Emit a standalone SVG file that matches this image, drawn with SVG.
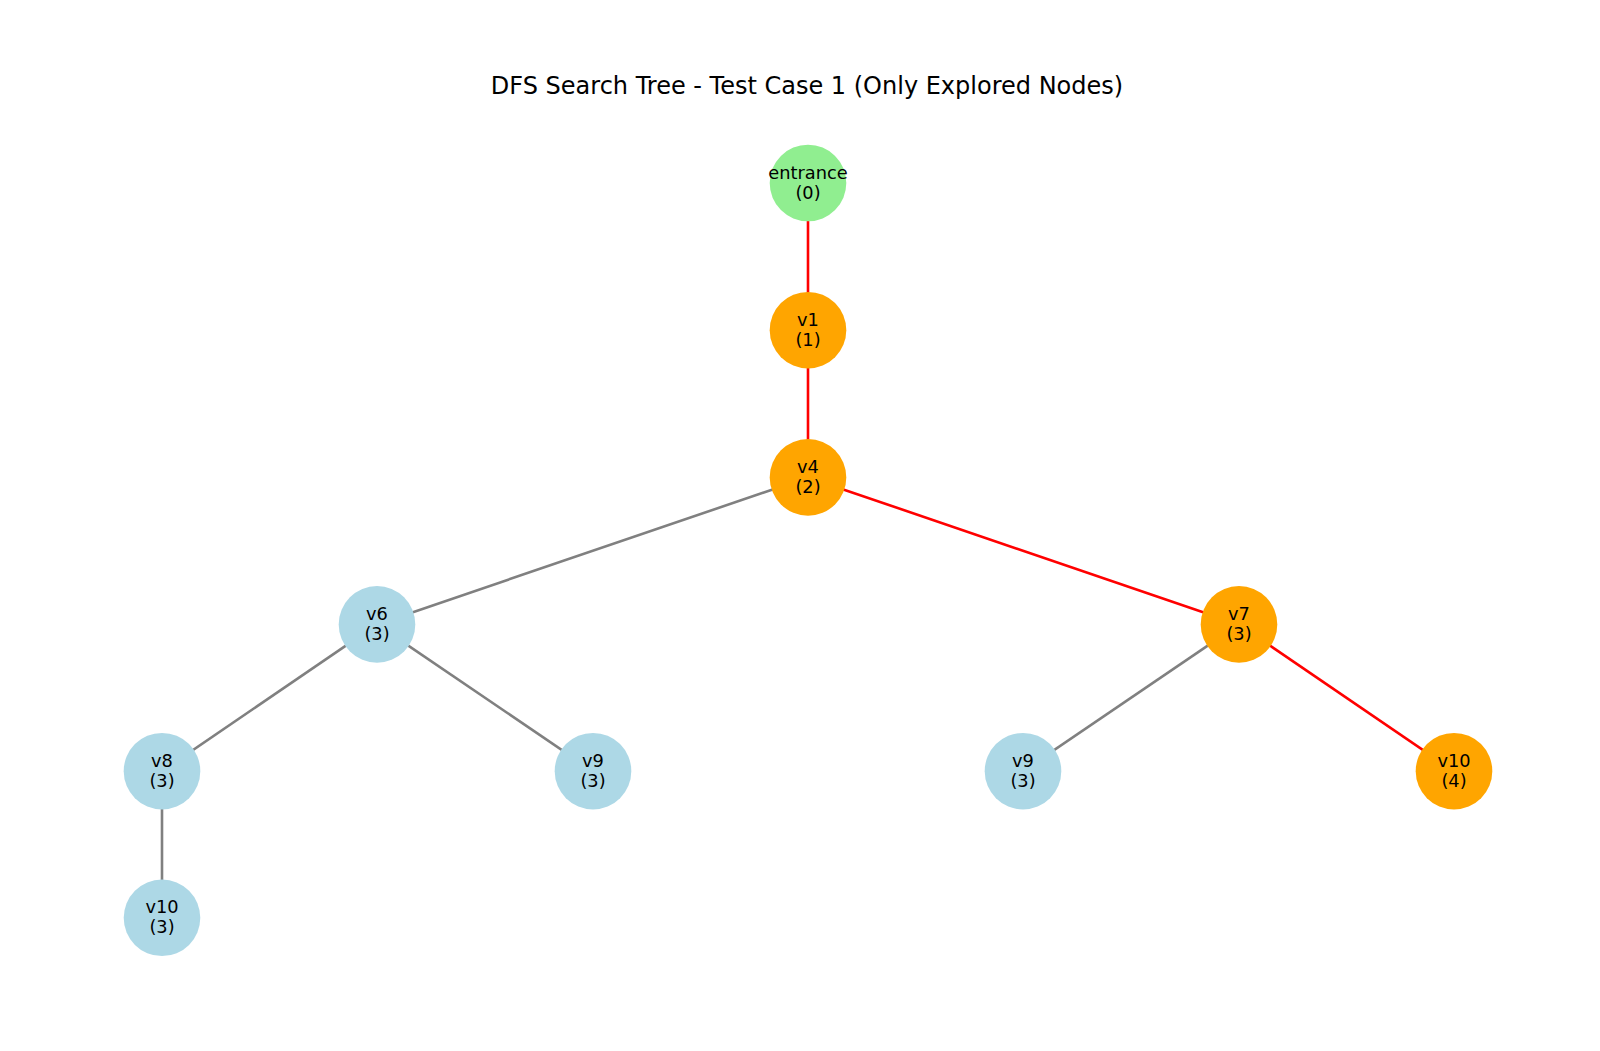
<svg xmlns="http://www.w3.org/2000/svg" width="1600" height="1051" viewBox="0 0 1600 1051">
<style>
.e{stroke-width:2.6;fill:none}
.red{stroke:#ff0000}
.gray{stroke:#808080}
.n{stroke:none}
.g{fill:#90ee90}
.o{fill:#ffa500}
.b{fill:#add8e6}
text{font-family:"DejaVu Sans","Liberation Sans",sans-serif;fill:#000;text-anchor:middle}
.l{font-size:17.8px}
.t{font-size:24px}
</style>
<rect width="1600" height="1051" fill="#fff"/>
<text class="t" x="807" y="93.5">DFS Search Tree - Test Case 1 (Only Explored Nodes)</text>
<g id="edges">
<line class="e red" x1="808" y1="183" x2="808" y2="330.2"/>
<line class="e red" x1="808" y1="330.2" x2="808" y2="477.4"/>
<line class="e gray" x1="808" y1="477.4" x2="377" y2="624.4"/>
<line class="e red" x1="808" y1="477.4" x2="1239" y2="624.4"/>
<line class="e gray" x1="377" y1="624.4" x2="162" y2="771.2"/>
<line class="e gray" x1="377" y1="624.4" x2="593" y2="771.2"/>
<line class="e gray" x1="1239" y1="624.4" x2="1023" y2="771.2"/>
<line class="e red" x1="1239" y1="624.4" x2="1454" y2="771.2"/>
<line class="e gray" x1="162" y1="771.2" x2="162" y2="917.8"/>
</g>
<g id="entrance"><circle class="n g" cx="808" cy="183" r="38.3"/><text class="l" x="808" y="178.5">entrance</text><text class="l" x="808" y="198.5">(0)</text></g>
<g id="v1"><circle class="n o" cx="808" cy="330.2" r="38.3"/><text class="l" x="808" y="325.7">v1</text><text class="l" x="808" y="345.7">(1)</text></g>
<g id="v4"><circle class="n o" cx="808" cy="477.4" r="38.3"/><text class="l" x="808" y="472.9">v4</text><text class="l" x="808" y="492.9">(2)</text></g>
<g id="v6"><circle class="n b" cx="377" cy="624.4" r="38.3"/><text class="l" x="377" y="619.9">v6</text><text class="l" x="377" y="639.9">(3)</text></g>
<g id="v7"><circle class="n o" cx="1239" cy="624.4" r="38.3"/><text class="l" x="1239" y="619.9">v7</text><text class="l" x="1239" y="639.9">(3)</text></g>
<g id="v8"><circle class="n b" cx="162" cy="771.2" r="38.3"/><text class="l" x="162" y="766.7">v8</text><text class="l" x="162" y="786.7">(3)</text></g>
<g id="v9_a"><circle class="n b" cx="593" cy="771.2" r="38.3"/><text class="l" x="593" y="766.7">v9</text><text class="l" x="593" y="786.7">(3)</text></g>
<g id="v9_b"><circle class="n b" cx="1023" cy="771.2" r="38.3"/><text class="l" x="1023" y="766.7">v9</text><text class="l" x="1023" y="786.7">(3)</text></g>
<g id="v10_a"><circle class="n o" cx="1454" cy="771.2" r="38.3"/><text class="l" x="1454" y="766.7">v10</text><text class="l" x="1454" y="786.7">(4)</text></g>
<g id="v10_b"><circle class="n b" cx="162" cy="917.8" r="38.3"/><text class="l" x="162" y="913.3">v10</text><text class="l" x="162" y="933.3">(3)</text></g>
</svg>
